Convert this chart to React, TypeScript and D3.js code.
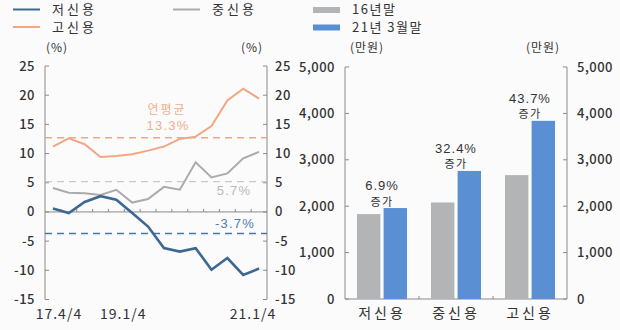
import React from "react";
import * as d3 from "d3";

// ---- Left chart data (quarterly growth, %) ----
const periods = ["17.4/4","18.1/4","18.2/4","18.3/4","18.4/4","19.1/4","19.2/4","19.3/4","19.4/4","20.1/4","20.2/4","20.3/4","20.4/4","21.1/4"];
const lowCredit = [0.6, -0.2, 1.7, 2.7, 2.1, -0.2, -2.5, -6.2, -6.8, -6.2, -9.9, -7.9, -10.8, -9.7];
const midCredit = [4.1, 3.3, 3.2, 2.9, 3.8, 1.6, 2.2, 4.3, 3.8, 8.5, 5.9, 6.6, 9.2, 10.3];
const highCredit = [11.2, 12.6, 11.6, 9.4, 9.6, 9.9, 10.5, 11.2, 12.5, 12.9, 14.7, 19.1, 21.1, 19.4];
const avgLines = [12.7, 5.2, -3.7];
const avgLabels = ["13.3%", "5.7%", "-3.7%"];
const xTickLabels = ["17.4/4", "19.1/4", "21.1/4"];
const pctTicks = [25, 20, 15, 10, 5, 0, -5, -10, -15];

// ---- Right chart data (만원) ----
const groups = ["저신용", "중신용", "고신용"];
const end16 = [1830, 2080, 2670];
const mar21 = [1960, 2760, 3840];
const growthLabels = ["6.9%", "32.4%", "43.7%"];
const amtTicks = [0, 1000, 2000, 3000, 4000, 5000];

const FONT = "'Noto Sans CJK KR', 'Noto Sans', sans-serif";
const NUMFONT = "'Liberation Sans', Arial, sans-serif";
const C_BLUE = "#3d6892";
const C_ORANGE = "#f2a783";
const C_GRAY = "#ababab";
const C_BAR_GRAY = "#b3b4b6";
const C_BAR_BLUE = "#5b8fd3";
const AXIS = "#8a8a8a";
const TXT = "#333";

export default function App() {
  // left chart scales
  const xL = d3.scaleBand<string>().domain(periods).range([45, 267]);
  const yL = d3.scaleLinear().domain([-15, 25]).range([299.5, 66]);
  const cx = (i: number) => (xL(periods[i]) as number) + xL.bandwidth() / 2;
  const line = d3.line<number>().x((_, i) => cx(i)).y((d) => yL(d));

  // right chart scales
  const xR = d3.scaleBand<string>().domain(groups).range([345, 567]);
  const xSub = d3.scaleBand<string>().domain(["a", "b"]).range([0, xR.bandwidth()]).paddingInner(0.12).paddingOuter(0.45);
  const yR = d3.scaleLinear().domain([0, 5000]).range([299, 67]);
  const fmt = d3.format(",");

  const tickLabelStyle = { fontFamily: FONT, fontSize: 13, fill: TXT, fontWeight: 500, letterSpacing: 0.5 } as const;

  return (
    <svg width={620} height={330} style={{ position: "absolute", left: 0, top: 0, background: "#fbfbfc" }} fontFamily={FONT}>
      <rect x={0} y={0} width={620} height={330} fill="#fbfbfc" />
      {/* Legend left */}
      <line x1={13} x2={40} y1={9.5} y2={9.5} stroke={C_BLUE} strokeWidth={2} />
      <text x={52} y={14} fontSize={13} letterSpacing={3} fill={TXT}>저신용</text>
      <line x1={173} x2={200} y1={9.5} y2={9.5} stroke={C_GRAY} strokeWidth={2} />
      <text x={212} y={14} fontSize={13} letterSpacing={3} fill={TXT}>중신용</text>
      <line x1={13} x2={40} y1={27} y2={27} stroke={C_ORANGE} strokeWidth={2} />
      <text x={52} y={32} fontSize={13} letterSpacing={3} fill={TXT}>고신용</text>
      {/* Legend right */}
      <rect x={313} y={7} width={27} height={6} fill={C_BAR_GRAY} />
      <text x={352} y={14} fontSize={13} letterSpacing={1.5} fill={TXT}>16년말</text>
      <rect x={313} y={24.5} width={27} height={6} fill={C_BAR_BLUE} />
      <text x={352} y={32} fontSize={13} letterSpacing={1.5} fill={TXT}>21년 3월말</text>

      {/* Units */}
      <text x={57} y={52} fontSize={12} fill={TXT} textAnchor="middle" letterSpacing={1}>(%)</text>
      <text x={252} y={52} fontSize={12} fill={TXT} textAnchor="middle" letterSpacing={1}>(%)</text>
      <text x={367} y={52} fontSize={12} fill={TXT} textAnchor="middle" letterSpacing={1}>(만원)</text>
      <text x={543} y={52} fontSize={12} fill={TXT} textAnchor="middle" letterSpacing={1}>(만원)</text>

      {/* ===== Left chart ===== */}
      <line x1={45} x2={45} y1={yL(25)} y2={yL(-15)} stroke={AXIS} />
      <line x1={267} x2={267} y1={yL(25)} y2={yL(-15)} stroke={AXIS} />
      {pctTicks.map((t) => (
        <g key={t}>
          <line x1={45} x2={49} y1={yL(t)} y2={yL(t)} stroke={AXIS} />
          <line x1={263} x2={267} y1={yL(t)} y2={yL(t)} stroke={AXIS} />
          <text x={35} y={yL(t) + 4.5} textAnchor="end" {...tickLabelStyle}>{t}</text>
          <text x={275} y={yL(t) + 4.5} textAnchor="start" {...tickLabelStyle}>{t}</text>
        </g>
      ))}
      {/* zero line */}
      <line x1={45} x2={267} y1={yL(0)} y2={yL(0)} stroke={AXIS} />
      {periods.slice(1).map((p) => (
        <line key={p} x1={xL(p) as number} x2={xL(p) as number} y1={yL(0)} y2={yL(0) - 3} stroke={AXIS} />
      ))}
      {/* avg dashed lines */}
      {avgLines.map((v, i) => (
        <line key={i} x1={45} x2={267} y1={yL(v)} y2={yL(v)}
          stroke={[ "#eaa98c", "#c9c9c9", "#4a77a3" ][i]} strokeWidth={i === 2 ? 1.6 : 1.4} strokeDasharray="7,5" />
      ))}
      {/* lines */}
      <path d={line(midCredit) || ""} fill="none" stroke={C_GRAY} strokeWidth={2} />
      <path d={line(highCredit) || ""} fill="none" stroke={C_ORANGE} strokeWidth={2} />
      <path d={line(lowCredit) || ""} fill="none" stroke={C_BLUE} strokeWidth={2.6} />
      {/* annotations */}
      <text x={167} y={114} textAnchor="middle" fontSize={12} letterSpacing={2} fill="#f2ae8e">연평균</text>
      <text x={168} y={130} textAnchor="middle" fontFamily={NUMFONT} fontSize={13} letterSpacing={1.2} fill="#f2ae8e">{avgLabels[0]}</text>
      <text x={234} y={195} textAnchor="middle" fontFamily={NUMFONT} fontSize={13} letterSpacing={1.2} fill="#b9b9b9">{avgLabels[1]}</text>
      <text x={235} y={228} textAnchor="middle" fontFamily={NUMFONT} fontSize={13} letterSpacing={1.2} fill="#4a80b0">{avgLabels[2]}</text>
      {/* x labels */}
      {xTickLabels.map((l, k) => {
        const i = periods.indexOf(l);
        const dx = [6, -9, -6][k];
        return (
          <text key={l} x={cx(i) + dx} y={319} textAnchor="middle" fontSize={14} letterSpacing={1} fill={TXT}>{l}</text>
        );
      })}

      {/* ===== Right chart ===== */}
      <line x1={345} x2={345} y1={yR(5000)} y2={yR(0)} stroke={AXIS} />
      <line x1={567} x2={567} y1={yR(5000)} y2={yR(0)} stroke={AXIS} />
      <line x1={345} x2={567} y1={yR(0)} y2={yR(0)} stroke={AXIS} />
      {amtTicks.map((t) => (
        <g key={t}>
          <line x1={345} x2={349} y1={yR(t)} y2={yR(t)} stroke={AXIS} />
          <line x1={563} x2={567} y1={yR(t)} y2={yR(t)} stroke={AXIS} />
          <text x={335} y={yR(t) + 4.5} textAnchor="end" {...tickLabelStyle}>{fmt(t)}</text>
          <text x={577} y={yR(t) + 4.5} textAnchor="start" {...tickLabelStyle}>{fmt(t)}</text>
        </g>
      ))}
      {groups.slice(1).map((g) => (
        <line key={g} x1={xR(g) as number} x2={xR(g) as number} y1={yR(0)} y2={yR(0) - 3} stroke={AXIS} />
      ))}
      {groups.map((g, i) => {
        const x0 = xR(g) as number;
        const gc = x0 + xR.bandwidth() / 2;
        return (
          <g key={g}>
            <rect x={x0 + (xSub("a") as number)} width={xSub.bandwidth()} y={yR(end16[i])} height={yR(0) - yR(end16[i])} fill={C_BAR_GRAY} />
            <rect x={x0 + (xSub("b") as number)} width={xSub.bandwidth()} y={yR(mar21[i])} height={yR(0) - yR(mar21[i])} fill={C_BAR_BLUE} />
            <text x={gc} y={yR(mar21[i]) - 18} textAnchor="middle" fontFamily={NUMFONT} fontSize={13} letterSpacing={1} fill={TXT}>{growthLabels[i]}</text>
            <text x={gc} y={yR(mar21[i]) - 2.5} textAnchor="middle" fontSize={11} letterSpacing={1.5} fill={TXT}>증가</text>
            <text x={gc} y={318} textAnchor="middle" fontSize={14} letterSpacing={3} fill={TXT}>{g}</text>
          </g>
        );
      })}
    </svg>
  );
}
